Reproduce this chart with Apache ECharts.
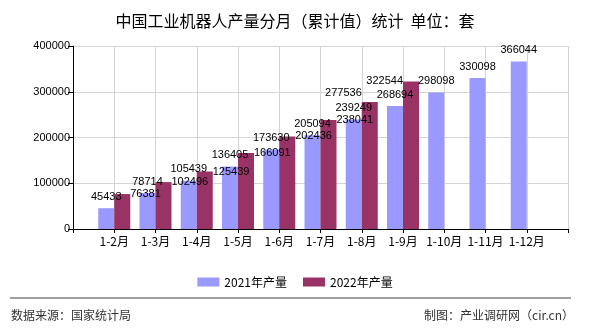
<!DOCTYPE html>
<html>
<head>
<meta charset="utf-8">
<script src="https://cdn.jsdelivr.net/npm/echarts@6/dist/echarts.min.js"></script>
<style>
html,body{margin:0;padding:0;background:#fff;}
#c{width:590px;height:330px;}
</style>
</head>
<body>
<div id="c"></div>
<script>
const months = ['1-2月','1-3月','1-4月','1-5月','1-6月','1-7月','1-8月','1-9月','1-10月','1-11月','1-12月'];
const values2021 = [45433, 78714, 105439, 136405, 173630, 205094, 239249, 268694, 298098, 330098, 366044];
const values2022 = [76381, 102496, 125439, 166091, 202436, 238041, 277536, 322544, null, null, null];
const yTicks = [0, 100000, 200000, 300000, 400000];
const seriesNames = ['2021年产量', '2022年产量'];

const FONT = '"Noto Sans CJK SC", "Liberation Sans", sans-serif';
const categories = [''].concat(months, ['']);

function pad(arr) { return [null].concat(arr, [null]); }

const data2021 = pad(values2021);
const data2022 = pad(values2022).map(function (v, i) {
  if (v == null) return v;
  const m = months[i - 1];
  if (m === '1-8月') {
    return { value: v, label: { position: [0, -9], align: 'right' } };
  }
  if (m === '1-9月') {
    return { value: v, label: { position: [0, 0], align: 'right' } };
  }
  return v;
});

const chart = echarts.init(document.getElementById('c'), null, { renderer: 'canvas' });
chart.setOption({
  animation: false,
  backgroundColor: '#ffffff',
  title: {
    text: '中国工业机器人产量分月（累计值）统计  单位：套',
    left: 'center',
    top: 8,
    textStyle: { fontFamily: FONT, fontSize: 16, fontWeight: 'normal', color: '#000' }
  },
  legend: {
    data: seriesNames,
    left: 'center',
    top: 271,
    itemWidth: 22,
    itemHeight: 9,
    itemGap: 16,
    icon: 'rect',
    textStyle: { fontFamily: FONT, fontSize: 12, color: '#000' }
  },
  grid: { left: 73, right: 22, top: 46, bottom: 101, containLabel: false },
  xAxis: {
    type: 'category',
    data: categories,
    boundaryGap: false,
    axisLine: { lineStyle: { color: '#000', width: 1 } },
    axisTick: { show: true, length: 4, lineStyle: { color: '#000' } },
    axisLabel: { fontFamily: FONT, fontSize: 12, color: '#000', margin: 6, interval: 0 },
    splitLine: { show: true, lineStyle: { color: '#d4d4d4', width: 1 } }
  },
  yAxis: {
    type: 'value',
    min: yTicks[0],
    max: yTicks[yTicks.length - 1],
    interval: yTicks[1] - yTicks[0],
    axisLine: { show: true, lineStyle: { color: '#000', width: 1 } },
    axisTick: { show: true, length: 5, lineStyle: { color: '#000' } },
    axisLabel: {
      fontFamily: '"Liberation Sans", sans-serif', fontSize: 11, color: '#000', margin: 3,
      formatter: function (v) { return String(v); }
    },
    splitLine: { show: true, lineStyle: { color: '#d4d4d4', width: 1 } }
  },
  series: [
    {
      name: seriesNames[0],
      type: 'bar',
      data: data2021,
      barWidth: 16,
      barGap: '0%',
      itemStyle: { color: '#9999FF' },
      label: {
        show: true, position: 'top', distance: 6,
        fontFamily: '"Liberation Sans", sans-serif', fontSize: 11, color: '#000'
      }
    },
    {
      name: seriesNames[1],
      type: 'bar',
      data: data2022,
      barWidth: 16,
      barGap: '0%',
      itemStyle: { color: '#993366' },
      label: {
        show: true, position: ['100%', 0], align: 'left', verticalAlign: 'middle',
        fontFamily: '"Liberation Sans", sans-serif', fontSize: 11, color: '#000'
      }
    }
  ],
  graphic: [
    {
      type: 'line',
      shape: { x1: 10, y1: 298, x2: 571, y2: 298 },
      style: { stroke: '#808080', lineWidth: 1.5 }
    },
    {
      type: 'text',
      left: 11,
      top: 309,
      style: { text: '数据来源：国家统计局', font: '12px ' + FONT, fill: '#333' }
    },
    {
      type: 'text',
      right: 16,
      top: 309,
      style: { text: '制图：产业调研网（cir.cn）', font: '12px ' + FONT, fill: '#333' }
    }
  ]
});
</script>
</body>
</html>
